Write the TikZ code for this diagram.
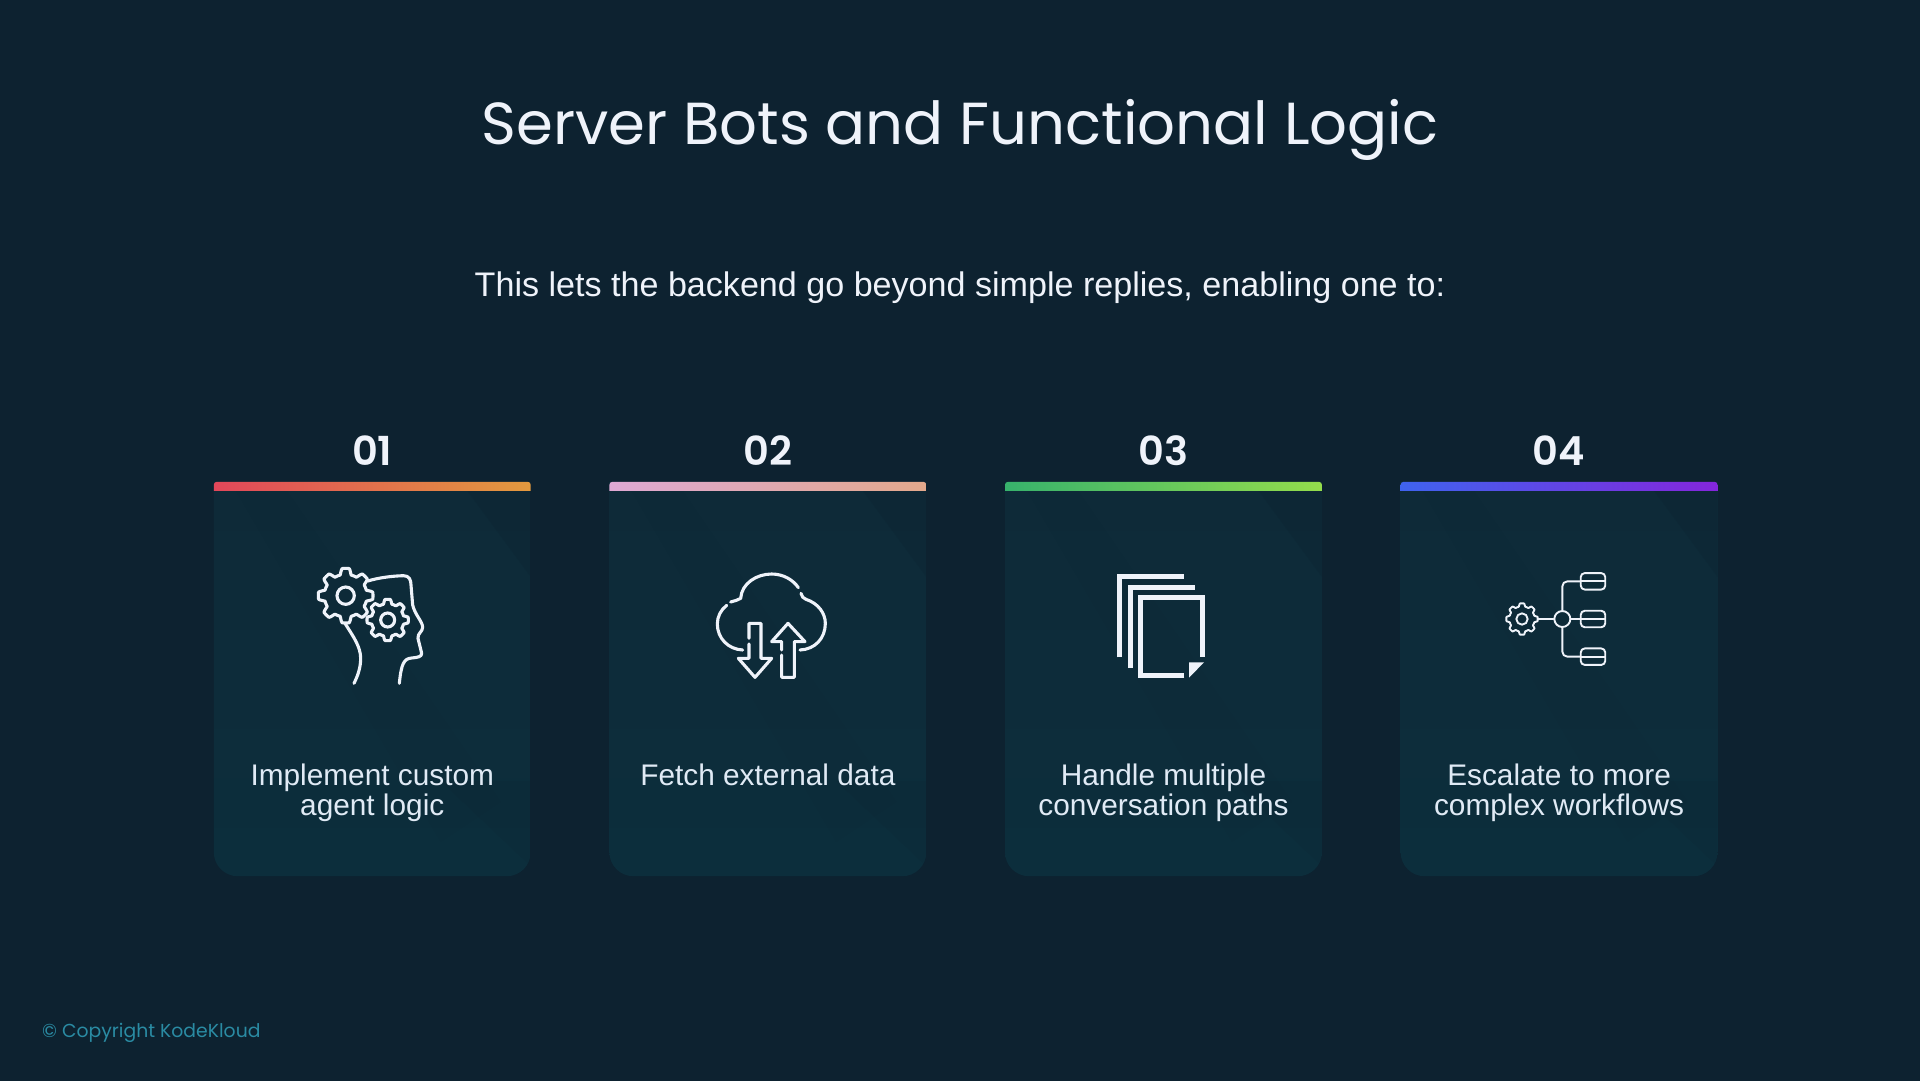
\documentclass[tikz,border=0pt]{standalone}
\usepackage{fontspec}
\setmainfont{Liberation Sans}
\newfontfamily\headfont{Poppins}
\newfontfamily\numfont{Poppins SemiBold}
\usetikzlibrary{positioning}
\definecolor{pagebg}{HTML}{0D2230}
\definecolor{cardtop}{HTML}{0E2A38}
\definecolor{cardbottom}{HTML}{0C2E3C}
\definecolor{inkwhite}{HTML}{EFF3FA}
\definecolor{inksoft}{HTML}{E0EAF5}
\definecolor{copyink}{HTML}{2A8BA3}
\tikzset{
  card/.style={
    rectangle, inner sep=0pt, minimum width=316.5pt, minimum height=394pt
  },
  cardnum/.style={
    text=inkwhite, font=\numfont\fontsize{40}{40}\selectfont, inner sep=0pt
  },
  cardtext/.style={
    text=inksoft, font=\fontsize{29.8}{30}\selectfont, align=center, inner sep=0pt,
    anchor=north
  },
  iconline/.style={
    draw=inkwhite, line width=3.1pt, line cap=round, line join=round
  },
  thinline/.style={
    draw=inkwhite, line width=1.9pt, line cap=round, line join=round
  },
  pageline/.style={
    draw=inkwhite, line width=5pt, line cap=butt, line join=miter
  },
  smallbox/.style={
    rectangle, rounded corners=4pt, thinline, minimum width=24.5pt,
    minimum height=16.5pt, inner sep=0pt
  }
}
\newcommand{\gearicon}[6][iconline]{%
  \draw[#1, shift={(#2,#3)}] plot[domain=0:360, samples=193]
    (\x:{#4+#5*max(-1,min(1,2.2*cos(8*\x)))}) -- cycle;
  \draw[#1] (#2,#3) circle[radius=#6];
}
\begin{document}
\begin{tikzpicture}[x=1pt, y=-1pt]
\useasboundingbox (0,0) rectangle (1920,1080);
\fill[pagebg] (-2,-2) rectangle (1922,1082);

% Heading
\node[text=inkwhite, font=\headfont\fontsize{59.3}{60}\selectfont, inner sep=0pt] (title) at (960,130) {Server Bots and Functional Logic};
\node[text=inkwhite, font=\fontsize{34.1}{34}\selectfont, inner sep=0pt] (subtitle) at (960,288) {This lets the backend go beyond simple replies, enabling one to:};

% Cards
\node[card] (card1) at (372.25,679) {};
\node[card, right=78.7pt of card1] (card2) {};
\node[card, right=78.7pt of card2] (card3) {};
\node[card, right=78.7pt of card3] (card4) {};

% Card faces and top bars
\foreach \c/\barl/\barr in {1/E2475A/E39A3E, 2/DFA9D4/E3A98C, 3/37B26C/94DD4C, 4/3F63EE/8426DC} {
  \definecolor{barleft}{HTML}{\barl}
  \definecolor{barright}{HTML}{\barr}
  \begin{scope}
    \clip (card\c.north west) [rounded corners=24pt] -- (card\c.south west) -- (card\c.south east) [sharp corners] -- (card\c.north east) -- cycle;
    \shade[top color=cardtop, bottom color=cardbottom] (card\c.north west) rectangle (card\c.south east);
    \fill[pagebg, opacity=.3] ([xshift=-70pt]card\c.north east) -- (card\c.north east) -- ([yshift=-95pt]card\c.north east) -- cycle;
    \fill[pagebg, opacity=.08] ([xshift=-300pt]card\c.north east) -- ([xshift=-250pt]card\c.north east) -- ([xshift=-30pt,yshift=-320pt]card\c.north east) -- ([xshift=-90pt,yshift=-360pt]card\c.north east) -- cycle;
    \fill[pagebg, opacity=.12] ([xshift=-90pt,yshift=95pt]card\c.south east) -- ([xshift=0pt,yshift=95pt]card\c.south east) -- ([yshift=10pt]card\c.south east) -- cycle;
  \end{scope}
  \shade[left color=barleft, right color=barright] (card\c.north west) ++(0,9) [rounded corners=3pt] -- (card\c.north west) -- (card\c.north east) [sharp corners] -- ++(0,9) -- cycle;
}

% Numbers
\node[cardnum, above=16pt of card1.north] (num1) {01};
\node[cardnum, above=16pt of card2.north] (num2) {02};
\node[cardnum, above=16pt of card3.north] (num3) {03};
\node[cardnum, above=16pt of card4.north] (num4) {04};

% Card texts
\node[cardtext, below=282pt of card1.north] (text1) {Implement custom\\agent logic};
\node[cardtext, below=282pt of card2.north] (text2) {Fetch external data};
\node[cardtext, below=282pt of card3.north] (text3) {Handle multiple\\conversation paths};
\node[cardtext, below=282pt of card4.north] (text4) {Escalate to more\\complex workflows};

% Head icon
\begin{scope}[shift={(200,420)}, scale=1/3]
  \gearicon{437}{527}{73}{9}{26}
  \gearicon{563}{600}{55.5}{6.5}{21}
  \draw[iconline] (503,483) .. controls (540,472) and (580,468) .. (610,467) .. controls (628,467) and (633,480) .. (633,495) -- (638,555) .. controls (645,585) and (668,605) .. (668,622) .. controls (668,635) and (652,640) .. (654,655) -- (665,700) .. controls (665,710) and (655,712) .. (635,714) .. controls (612,716) and (604,730) .. (598,790);
  \draw[iconline] (435,610) .. controls (460,650) and (482,680) .. (482,715) .. controls (482,745) and (472,770) .. (462,790);
\end{scope}

% Cloud icon
\begin{scope}[shift={(600,420)}, scale=1/3]
  \draw[iconline] (392,546) .. controls (405,542) and (415,540) .. (422,535) .. controls (425,490) and (470,462) .. (515,462) .. controls (550,462) and (580,480) .. (595,503);
  \draw[iconline] (603,520) .. controls (605,530) and (610,535) .. (618,538) .. controls (655,550) and (676,580) .. (676,610) .. controls (676,655) and (645,688) .. (600,690);
  \draw[iconline] (380,556) .. controls (362,570) and (352,590) .. (352,612) .. controls (352,655) and (385,688) .. (428,690);
  \draw[iconline] (447,655) -- (447,610) -- (483,610) -- (483,715) -- (515,715) -- (465,772) -- (415,715) -- (447,715) -- (447,672);
  \draw[iconline] (545,690) -- (545,665) -- (515,665) -- (564,610) -- (615,665) -- (583,665) -- (583,772) -- (545,772) -- (545,705);
\end{scope}

% Pages icon
\begin{scope}[shift={(1000,420)}, scale=1/3]
  \draw[pageline] (359,712) -- (359,470) -- (552,470);
  \draw[pageline] (390,744) -- (390,501) -- (584,501);
  \draw[pageline] (553,766) -- (421,766) -- (421,531) -- (606,531) -- (606,712);
  \fill[inkwhite] (567,773) -- (567,727) -- (612,727) -- cycle;
\end{scope}

% Flow icon
\begin{scope}[shift={(1390,420)}, scale=1/3]
  \gearicon[thinline]{396}{597}{42.5}{4.5}{17}
  \node[circle, minimum size=32pt, inner sep=0pt] (gear) at (396,597) {};
  \node[circle, thinline, minimum size=16pt, inner sep=0pt] (hub) at (517,597) {};
  \node[smallbox] (box1) at (609,484) {};
  \node[smallbox] (box2) at (609,597) {};
  \node[smallbox] (box3) at (609,710) {};
  \draw[thinline] (gear) -- (hub);
  \draw[thinline] (hub) -- (box2);
  \draw[thinline, rounded corners=5pt] (hub) |- (box1);
  \draw[thinline, rounded corners=5pt] (hub) |- (box3);
  \draw[thinline] ([xshift=4pt]box1.west) -- ([xshift=-4pt]box1.east);
  \draw[thinline] ([xshift=4pt]box2.west) -- ([xshift=-4pt]box2.east);
  \draw[thinline] ([xshift=4pt]box3.west) -- ([xshift=-4pt]box3.east);
\end{scope}

% Footer
\node[text=copyink, font=\headfont\fontsize{18.8}{19}\selectfont, inner sep=0pt, anchor=west] (copy) at (42,1033) {© Copyright KodeKloud};

\end{tikzpicture}
\end{document}
